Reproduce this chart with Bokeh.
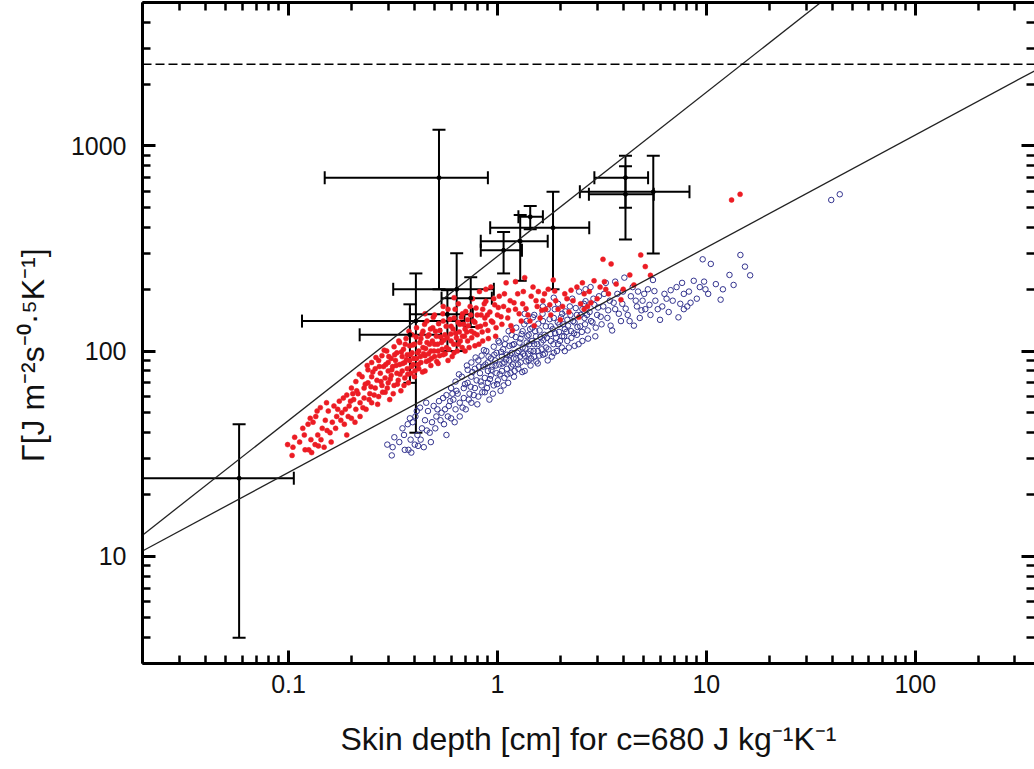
from bokeh.plotting import figure
from bokeh.models import (LogAxis, LogTicker, ColumnDataSource, Whisker, TeeHead,
                          Span, CustomJSTickFormatter, Range1d)
from bokeh.embed import file_html
from bokeh.resources import INLINE

# ---------------- data ----------------
# skin depth of each object for the two assumptions (red dots / blue open circles), same Gamma
depth_red = [0.099, 0.105, 0.104, 0.12, 0.125, 0.129, 0.134, 0.139, 0.148, 0.119, 0.117, 0.124, 0.131, 0.135,
             0.138, 0.145, 0.15, 0.155, 0.142, 0.158, 0.162, 0.165, 0.17, 0.175, 0.18, 0.185, 0.19, 0.19, 0.195,
             0.2, 0.2, 0.205, 0.21, 0.21, 0.215, 0.22, 0.22, 0.225, 0.23, 0.23, 0.235, 0.24, 0.24, 0.245, 0.25,
             0.25, 0.25, 0.26, 0.26, 0.265, 0.27, 0.27, 0.275, 0.28, 0.28, 0.285, 0.29, 0.29, 0.295, 0.3, 0.3,
             0.3, 0.305, 0.31, 0.31, 0.315, 0.32, 0.32, 0.325, 0.33, 0.33, 0.335, 0.34, 0.34, 0.345, 0.35, 0.35,
             0.355, 0.36, 0.36, 0.365, 0.37, 0.37, 0.375, 0.38, 0.38, 0.385, 0.39, 0.39, 0.395, 0.4, 0.4, 0.41,
             0.41, 0.42, 0.42, 0.43, 0.43, 0.44, 0.44, 0.45, 0.45, 0.46, 0.46, 0.47, 0.47, 0.48, 0.48, 0.49, 0.5,
             0.5, 0.5, 0.51, 0.52, 0.52, 0.53, 0.54, 0.55, 0.55, 0.56, 0.57, 0.58, 0.58, 0.6, 0.6, 0.62, 0.62,
             0.63, 0.65, 0.65, 0.66, 0.68, 0.68, 0.7, 0.7, 0.72, 0.72, 0.74, 0.75, 0.76, 0.78, 0.78, 0.8, 0.8,
             0.82, 0.83, 0.85, 0.85, 0.87, 0.88, 0.9, 0.92, 0.93, 0.95, 0.97, 0.98, 1.0, 1.02, 1.05, 1.07, 1.1,
             1.12, 1.15, 1.18, 1.22, 1.25, 1.3, 1.32, 1.35, 1.4, 1.45, 1.5, 1.55, 1.57, 1.6, 1.65, 1.7, 1.75,
             1.8, 1.85, 1.9, 2.0, 2.05, 2.1, 2.2, 2.3, 2.4, 2.45, 2.6, 2.7, 2.8, 2.9, 3.0, 3.2, 3.25, 3.5, 3.7,
             3.3, 2.6, 4.0, 4.3, 4.85, 5.1, 5.4, 3.9, 4.5, 13.2, 14.5,
             0.212, 0.218, 0.227, 0.233, 0.238, 0.243, 0.248, 0.253, 0.257, 0.262, 0.267, 0.272, 0.277, 0.282,
             0.287, 0.292, 0.297, 0.302, 0.307, 0.312, 0.317, 0.322, 0.327, 0.332, 0.337, 0.342, 0.347, 0.352,
             0.357, 0.362, 0.367, 0.372, 0.377, 0.383, 0.388, 0.393, 0.398, 0.403, 0.408, 0.415, 0.418, 0.425,
             0.428, 0.435, 0.438, 0.443, 0.448, 0.453, 0.457, 0.463, 0.468, 0.473, 0.478, 0.483, 0.488, 0.493,
             0.497, 0.505, 0.512, 0.517, 0.523, 0.528, 0.535, 0.543, 0.548, 0.553, 0.562, 0.568, 0.575, 0.585,
             0.592, 0.598, 0.607, 0.613, 0.618, 0.627, 0.636, 0.642, 0.648, 0.657, 0.664, 0.672, 0.678, 0.688,
             0.695, 0.705, 0.713, 0.725, 0.732, 0.745, 0.753, 0.768, 0.775, 0.79, 0.805, 0.815, 0.835, 0.845,
             0.865, 0.875, 0.895, 0.905, 0.935, 0.96, 0.985, 1.01, 1.04, 1.08, 1.13, 1.16, 1.2, 1.27, 1.33,
             1.37, 1.43, 1.48, 1.53, 1.63, 1.68, 1.78, 1.88, 1.95, 2.15, 2.25, 2.5, 2.55, 2.75, 3.1, 3.4, 1.22,
             0.88, 0.62, 0.55, 0.45,
             0.107, 0.113, 0.128, 0.143, 0.153, 0.16, 0.168, 0.172, 0.178, 0.183, 0.187, 0.193, 0.198, 0.203,
             0.208, 0.152, 0.137, 0.127]

depth_blue = [0.297, 0.315, 0.312, 0.36, 0.375, 0.387, 0.402, 0.417, 0.444, 0.357, 0.351, 0.372, 0.393, 0.405,
              0.414, 0.435, 0.45, 0.465, 0.426, 0.474, 0.486, 0.495, 0.51, 0.525, 0.54, 0.555, 0.57, 0.57, 0.585,
              0.6, 0.6, 0.615, 0.63, 0.63, 0.645, 0.66, 0.66, 0.675, 0.69, 0.69, 0.705, 0.72, 0.72, 0.735, 0.75,
              0.75, 0.75, 0.78, 0.78, 0.795, 0.81, 0.81, 0.825, 0.84, 0.84, 0.855, 0.87, 0.87, 0.885, 0.9, 0.9,
              0.9, 0.915, 0.93, 0.93, 0.945, 0.96, 0.96, 0.975, 0.99, 0.99, 1.005, 1.02, 1.02, 1.035, 1.05, 1.05,
              1.065, 1.08, 1.08, 1.095, 1.11, 1.11, 1.125, 1.14, 1.14, 1.155, 1.17, 1.17, 1.185, 1.2, 1.2, 1.23,
              1.23, 1.26, 1.26, 1.29, 1.29, 1.32, 1.32, 1.35, 1.35, 1.38, 1.38, 1.41, 1.41, 1.44, 1.44, 1.47, 1.5,
              1.5, 1.5, 1.53, 1.56, 1.56, 1.59, 1.62, 1.65, 1.65, 1.68, 1.71, 1.74, 1.74, 1.8, 1.8, 1.86, 1.86,
              1.89, 1.95, 1.95, 1.98, 2.04, 2.04, 2.1, 2.1, 2.16, 2.16, 2.22, 2.25, 2.28, 2.34, 2.34, 2.4, 2.4,
              2.46, 2.49, 2.55, 2.55, 2.61, 2.64, 2.7, 2.76, 2.79, 2.85, 2.91, 2.94, 3.0, 3.06, 3.15, 3.21, 3.3,
              3.36, 3.45, 3.54, 3.66, 3.75, 3.9, 3.96, 4.05, 4.2, 4.35, 4.5, 4.65, 4.71, 4.8, 4.95, 5.1, 5.25,
              5.4, 5.55, 5.7, 6.0, 6.15, 6.3, 6.6, 6.9, 7.2, 7.35, 7.8, 8.1, 8.4, 8.7, 9.0, 9.6, 9.75, 10.5, 11.1,
              9.9, 7.8, 12.0, 12.9, 14.55, 15.3, 16.2, 11.7, 13.5, 39.6, 43.5,
              0.636, 0.654, 0.681, 0.699, 0.714, 0.729, 0.744, 0.759, 0.771, 0.786, 0.801, 0.816, 0.831, 0.846,
              0.861, 0.876, 0.891, 0.906, 0.921, 0.936, 0.951, 0.966, 0.981, 0.996, 1.011, 1.026, 1.041, 1.056,
              1.071, 1.086, 1.101, 1.116, 1.131, 1.149, 1.164, 1.179, 1.194, 1.209, 1.224, 1.245, 1.254, 1.275,
              1.284, 1.305, 1.314, 1.329, 1.344, 1.359, 1.371, 1.389, 1.404, 1.419, 1.434, 1.449, 1.464, 1.479,
              1.491, 1.515, 1.536, 1.551, 1.569, 1.584, 1.605, 1.629, 1.644, 1.659, 1.686, 1.704, 1.725, 1.755,
              1.776, 1.794, 1.821, 1.839, 1.854, 1.881, 1.908, 1.926, 1.944, 1.971, 1.992, 2.016, 2.034, 2.064,
              2.085, 2.115, 2.139, 2.175, 2.196, 2.235, 2.259, 2.304, 2.325, 2.37, 2.415, 2.445, 2.505, 2.535,
              2.595, 2.625, 2.685, 2.715, 2.805, 2.88, 2.955, 3.03, 3.12, 3.24, 3.39, 3.48, 3.6, 3.81, 3.99,
              4.11, 4.29, 4.44, 4.59, 4.89, 5.04, 5.34, 5.64, 5.85, 6.45, 6.75, 7.5, 7.65, 8.25, 9.3, 10.2, 3.66,
              2.64, 1.86, 1.65, 1.35,
              0.321, 0.339, 0.384, 0.429, 0.459, 0.48, 0.504, 0.516, 0.534, 0.549, 0.561, 0.579, 0.594, 0.609,
              0.624, 0.456, 0.411, 0.381]

gamma = [35, 34, 31, 33, 33, 32, 35, 34.5, 34, 39, 42, 44, 45, 48,
         39, 42, 46, 51, 53, 40, 45, 54, 48, 57, 50, 44, 39, 61, 54,
         47, 66, 58, 52, 71, 62, 56, 48, 75, 66, 59, 52, 70, 81, 62, 56,
         75, 88, 66, 82, 72, 60, 90, 78, 68, 95, 84, 74, 63, 100, 80, 70,
         88, 58, 76, 92, 84, 105, 68, 90, 78, 98, 72, 86, 110, 64, 94, 80,
         102, 74, 88, 115, 96, 82, 70, 106, 90, 78, 120, 98, 86, 108, 75, 92,
         130, 100, 82, 115, 88, 104, 125, 95, 80, 110, 140, 90, 120, 100, 85, 130, 108,
         94, 150, 118, 100, 87, 126, 110, 96, 140, 120, 104, 160, 90, 132, 112, 98, 145,
         122, 108, 170, 135, 118, 152, 100, 128, 142, 112, 165, 125, 180, 138, 106, 150, 120,
         195, 132, 160, 112, 145, 175, 126, 155, 205, 138, 168, 118, 150, 185, 135, 165, 215,
         145, 176, 126, 160, 190, 140, 170, 228, 150, 185, 133, 165, 195, 145, 176, 160, 200,
         150, 222, 176, 142, 165, 190, 155, 176, 205, 146, 190, 165, 172, 220, 180, 280, 218, 266, 212,
         200, 160, 200, 235, 294, 258, 234, 178, 210, 545, 581,
         64, 77, 53, 69, 85, 58, 67, 79, 61, 93, 55, 84, 71, 63,
         101, 86, 66, 94, 73, 81, 62, 96, 85, 69, 112, 77, 99, 87,
         68, 108, 91, 77, 125, 96, 84, 107, 92, 80, 117, 98, 86, 110,
         94, 121, 79, 97, 135, 103, 89, 118, 97, 108, 128, 92, 112, 146,
         100, 125, 89, 108, 136, 95, 117, 102, 152, 113, 97, 132, 116, 102,
         143, 121, 94, 128, 108, 160, 116, 100, 138, 124, 112, 146, 104, 135,
         118, 156, 124, 133, 104, 150, 116, 140, 122, 162, 131, 108, 150, 124,
         170, 135, 150, 115, 140, 180, 130, 163, 147, 190, 158, 133, 172, 152, 195,
         161, 140, 205, 176, 158, 190, 168, 196, 160, 180, 198, 170, 215, 195, 205, 190, 218,
         200, 182, 165, 152,
         38, 36, 37, 37, 41, 36, 42, 52, 46, 59, 52, 48, 57, 62,
         45, 56, 51, 47]

# measured objects with error bars
meas_x = [0.058, 0.525, 0.407, 0.381, 0.638, 0.576, 0.745, 1.07, 1.285, 1.435, 1.845, 4.1, 4.1, 5.57]
meas_y = [24, 700, 140, 120, 200, 151, 181, 310, 343, 451, 399, 700, 581, 597]
meas_xlo = [0.01, 0.149, 0.116, 0.219, 0.317, 0.381, 0.54, 0.832, 0.832, 1.26, 0.923, 2.91, 2.74, 2.48]
meas_xhi = [0.106, 0.90, 0.695, 0.537, 0.961, 0.762, 0.94, 1.31, 1.74, 1.65, 2.75, 5.26, 5.6, 8.3]
meas_ylo = [4.0, 200, 40, 70, 100, 100, 131, 239, 220, 392, 200, 500, 350, 299]
meas_yhi = [44, 1200, 239, 169, 300, 198, 229, 381, 460, 509, 597, 895, 796, 895]

# two power-law relations and the horizontal limit
fit_x = [0.02, 400]
fit_steep_y = [12.67, 34900]
fit_flat_y = [10.6, 2415]
gamma_limit = 2500

x_lim = (0.02, 372)
y_lim = (3, 5000)

x_title = "Skin depth [cm] for c=680 J kg\u207b\u00b9K\u207b\u00b9"
y_title = "\u0393[J m\u207b\u00b2s\u207b\u2070\u00b7\u2075K\u207b\u00b9]" + "\u00a0" * 5

# ---------------- figure ----------------
W, H = 1034, 769
FL, FB = 142, 663
p = figure(width=W, height=H, x_axis_type="log", y_axis_type="log",
           x_range=Range1d(*x_lim), y_range=Range1d(*y_lim),
           output_backend="svg", toolbar_location=None,
           min_border_left=FL, min_border_right=0, min_border_top=2,
           min_border_bottom=H - FB)
p.outline_line_color = None
p.xgrid.grid_line_color = None
p.ygrid.grid_line_color = None
p.background_fill_color = "white"
p.border_fill_color = "white"

fmt = CustomJSTickFormatter(code="return String(Number(tick.toPrecision(4)));")


def style_axis(ax, show_labels=True, line=True):
    ax.ticker = LogTicker(num_minor_ticks=10)
    ax.axis_line_width = 3
    ax.axis_line_color = "black" if line else None
    ax.major_tick_in = 13
    ax.major_tick_out = 0
    ax.minor_tick_in = 8
    ax.minor_tick_out = 0
    ax.major_tick_line_width = 3
    ax.minor_tick_line_width = 2.5
    ax.major_tick_line_color = "black"
    ax.minor_tick_line_color = "black"
    ax.formatter = fmt
    if show_labels:
        ax.major_label_text_font = "Liberation Sans"
        ax.major_label_text_font_size = "25px"
        ax.major_label_text_color = "#111111"
        ax.axis_label_text_font = "Liberation Sans"
        ax.axis_label_text_font_size = "32px"
        ax.axis_label_text_font_style = "normal"
        ax.axis_label_text_color = "#111111"
    else:
        ax.major_label_text_font_size = "1px"
        ax.major_label_text_alpha = 0
        ax.major_label_standoff = 0


xa = p.xaxis[0]
style_axis(xa)
xa.major_label_standoff = 11
xa.axis_label = x_title
xa.axis_label_standoff = 25

ya = p.yaxis[0]
style_axis(ya)
ya.major_label_standoff = 16
ya.axis_label = y_title
ya.axis_label_standoff = 17

top = LogAxis()
style_axis(top, show_labels=False)
p.add_layout(top, "above")
right = LogAxis()
style_axis(right, show_labels=False, line=False)
p.add_layout(right, "right")

# blue open circles, then red dots
p.scatter(depth_blue, gamma, size=5.5, fill_color=None, line_color="#34348f", line_width=1)
p.scatter(depth_red, gamma, size=5, fill_color="#ec1c24", line_color="#ec1c24", line_width=0.5)

# relations
p.line(fit_x, fit_steep_y, line_width=1.3, line_color="#222222")
p.line(fit_x, fit_flat_y, line_width=1.3, line_color="#222222")
p.add_layout(Span(location=gamma_limit, dimension="width", line_dash="9 4",
                  line_width=1.5, line_color="black"))

# error bars
src = ColumnDataSource(dict(x=meas_x, y=meas_y, ylo=meas_ylo, yhi=meas_yhi))
src_main = ColumnDataSource(dict(y=meas_y[1:], xlo=meas_xlo[1:], xhi=meas_xhi[1:]))
src_first = ColumnDataSource(dict(y=meas_y[:1], xlo=meas_xlo[:1], xhi=meas_xhi[:1]))


def tee():
    return TeeHead(size=13, line_width=2, line_color="black")


p.add_layout(Whisker(source=src, base="x", lower="ylo", upper="yhi", dimension="height",
                     line_width=2, line_color="black", upper_head=tee(), lower_head=tee()))
p.add_layout(Whisker(source=src_main, base="y", lower="xlo", upper="xhi", dimension="width",
                     line_width=2, line_color="black", upper_head=tee(), lower_head=tee()))
p.add_layout(Whisker(source=src_first, base="y", lower="xlo", upper="xhi", dimension="width",
                     line_width=2, line_color="black", upper_head=tee(), lower_head=None))
p.scatter(meas_x, meas_y, size=4, color="black")

open("out.html", "w").write(file_html(p, INLINE))
